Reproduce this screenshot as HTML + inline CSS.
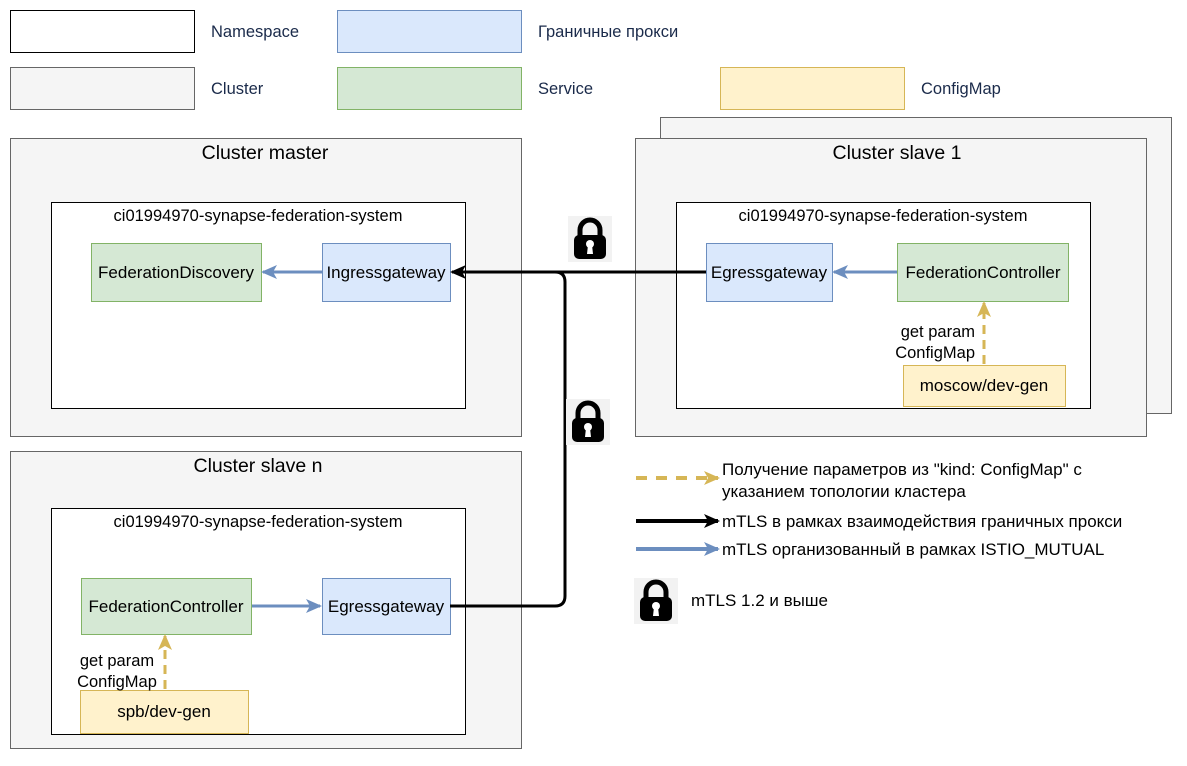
<!DOCTYPE html>
<html><head><meta charset="utf-8"><style>
html,body{margin:0;padding:0;background:#fff;}
svg text{font-family:"Liberation Sans",Arial,sans-serif;}
</style></head><body>
<svg width="1187" height="761" viewBox="0 0 1187 761" xmlns="http://www.w3.org/2000/svg">
<defs>
<marker id="ab" markerWidth="16" markerHeight="16" refX="14" refY="8" orient="auto" markerUnits="userSpaceOnUse"><path d="M0,1 L16,8 L0,15 L4,8 z" fill="#000"/></marker>
<marker id="ablue" markerWidth="16" markerHeight="16" refX="14" refY="8" orient="auto" markerUnits="userSpaceOnUse"><path d="M0,1 L16,8 L0,15 L4,8 z" fill="#6c8ebf"/></marker>
<marker id="ay" markerWidth="16" markerHeight="16" refX="14" refY="8" orient="auto" markerUnits="userSpaceOnUse"><path d="M0,1 L16,8 L0,15 L4,8 z" fill="#d6b656"/></marker>
<g id="lock">
<rect x="0" y="0" width="44" height="46" fill="#f2f2f2"/>
<path d="M12,20 V14 A10,10 0 0 1 32,14 V20" fill="none" stroke="#000" stroke-width="5"/>
<rect x="6" y="19" width="32" height="24" rx="5" fill="#000"/>
<circle cx="22" cy="28" r="4" fill="#fff"/>
<path d="M20,29 L19,38 H25 L24,29 z" fill="#fff"/>
</g>
</defs>
<g font-size="16.5" fill="#1a2a4a">
<rect x="10.5" y="10.5" width="184" height="42" fill="#fff" stroke="#000"/>
<text x="211" y="37">Namespace</text>
<rect x="337.5" y="10.5" width="184" height="42" fill="#dae8fc" stroke="#6c8ebf"/>
<text x="538" y="37">Граничные прокси</text>
<rect x="10.5" y="67.5" width="184" height="42" fill="#f5f5f5" stroke="#666"/>
<text x="211" y="94">Cluster</text>
<rect x="337.5" y="67.5" width="184" height="42" fill="#d5e8d4" stroke="#82b366"/>
<text x="538" y="94">Service</text>
<rect x="720.5" y="67.5" width="184" height="42" fill="#fff2cc" stroke="#d6b656"/>
<text x="921" y="94">ConfigMap</text>
</g>

<rect x="10.5" y="138.5" width="511" height="298" fill="#f5f5f5" stroke="#666"/>
<text x="265" y="159" font-size="19.5" text-anchor="middle">Cluster master</text>
<rect x="51.5" y="202.5" width="414" height="206" fill="#fff" stroke="#000"/>
<text x="258" y="221" font-size="16.5" text-anchor="middle">ci01994970-synapse-federation-system</text>
<rect x="91.5" y="243.5" width="170" height="58" fill="#d5e8d4" stroke="#82b366"/>
<text x="176" y="278" font-size="17" text-anchor="middle">FederationDiscovery</text>
<rect x="322.5" y="243.5" width="128" height="58" fill="#dae8fc" stroke="#6c8ebf"/>
<text x="386" y="278" font-size="17" text-anchor="middle">Ingressgateway</text>
<line x1="322" y1="272" x2="263" y2="272" stroke="#6c8ebf" stroke-width="3" marker-end="url(#ablue)"/>

<rect x="660.5" y="117.5" width="511" height="296" fill="#f5f5f5" stroke="#666"/>
<rect x="635.5" y="138.5" width="511" height="298" fill="#f5f5f5" stroke="#666"/>
<text x="897" y="159" font-size="19.5" text-anchor="middle">Cluster slave 1</text>
<rect x="676.5" y="202.5" width="414" height="206" fill="#fff" stroke="#000"/>
<text x="883" y="221" font-size="16.5" text-anchor="middle">ci01994970-synapse-federation-system</text>
<rect x="706.5" y="243.5" width="126" height="58" fill="#dae8fc" stroke="#6c8ebf"/>
<text x="769" y="278" font-size="17" text-anchor="middle">Egressgateway</text>
<rect x="897.5" y="243.5" width="171" height="58" fill="#d5e8d4" stroke="#82b366"/>
<text x="983" y="278" font-size="17" text-anchor="middle">FederationController</text>
<line x1="897" y1="272" x2="834" y2="272" stroke="#6c8ebf" stroke-width="3" marker-end="url(#ablue)"/>
<rect x="903.5" y="365.5" width="162" height="41" fill="#fff2cc" stroke="#d6b656"/>
<text x="984" y="391" font-size="17" text-anchor="middle">moscow/dev-gen</text>
<line x1="984" y1="364" x2="984" y2="303" stroke="#d6b656" stroke-width="3" stroke-dasharray="9,6" marker-end="url(#ay)"/>
<rect x="894" y="322" width="82" height="40" fill="#fff"/>
<text x="975" y="337" font-size="16.5" text-anchor="end">get param</text>
<text x="975" y="358" font-size="16.5" text-anchor="end">ConfigMap</text>

<rect x="10.5" y="451.5" width="511" height="297" fill="#f5f5f5" stroke="#666"/>
<text x="258" y="472" font-size="19.5" text-anchor="middle">Cluster slave n</text>
<rect x="51.5" y="508.5" width="414" height="226" fill="#fff" stroke="#000"/>
<text x="258" y="527" font-size="16.5" text-anchor="middle">ci01994970-synapse-federation-system</text>
<rect x="81.5" y="578.5" width="170" height="56" fill="#d5e8d4" stroke="#82b366"/>
<text x="166" y="612" font-size="17" text-anchor="middle">FederationController</text>
<rect x="322.5" y="578.5" width="128" height="56" fill="#dae8fc" stroke="#6c8ebf"/>
<text x="386" y="612" font-size="17" text-anchor="middle">Egressgateway</text>
<line x1="252" y1="606" x2="320" y2="606" stroke="#6c8ebf" stroke-width="3" marker-end="url(#ablue)"/>
<rect x="80.5" y="690.5" width="168" height="43" fill="#fff2cc" stroke="#d6b656"/>
<text x="164" y="717" font-size="17" text-anchor="middle">spb/dev-gen</text>
<line x1="165" y1="689" x2="165" y2="636" stroke="#d6b656" stroke-width="3" stroke-dasharray="9,6" marker-end="url(#ay)"/>
<rect x="74" y="650" width="88" height="40" fill="#fff"/>
<text x="117" y="666" font-size="16.5" text-anchor="middle">get param</text>
<text x="117" y="687" font-size="16.5" text-anchor="middle">ConfigMap</text>

<path d="M706,272 H452" fill="none" stroke="#000" stroke-width="3" marker-end="url(#ab)"/>
<path d="M450,606 H555 Q565,606 565,596 V282 Q565,272 555,272 H466" fill="none" stroke="#000" stroke-width="3"/>
<use href="#lock" x="568" y="216"/>
<use href="#lock" x="566" y="399"/>

<line x1="636" y1="478" x2="718" y2="478" stroke="#d6b656" stroke-width="4" stroke-dasharray="11,9" marker-end="url(#ay)"/>
<text x="722" y="475" font-size="17">Получение параметров из "kind: ConfigMap" с</text>
<text x="722" y="497" font-size="17">указанием топологии кластера</text>
<line x1="636" y1="521" x2="718" y2="521" stroke="#000" stroke-width="4" marker-end="url(#ab)"/>
<text x="722" y="527" font-size="17">mTLS в рамках взаимодействия граничных прокси</text>
<line x1="636" y1="549" x2="718" y2="549" stroke="#6c8ebf" stroke-width="4" marker-end="url(#ablue)"/>
<text x="722" y="555" font-size="17">mTLS организованный в рамках ISTIO_MUTUAL</text>
<use href="#lock" x="634" y="578"/>
<text x="691" y="606" font-size="17">mTLS 1.2 и выше</text>
</svg>
</body></html>
